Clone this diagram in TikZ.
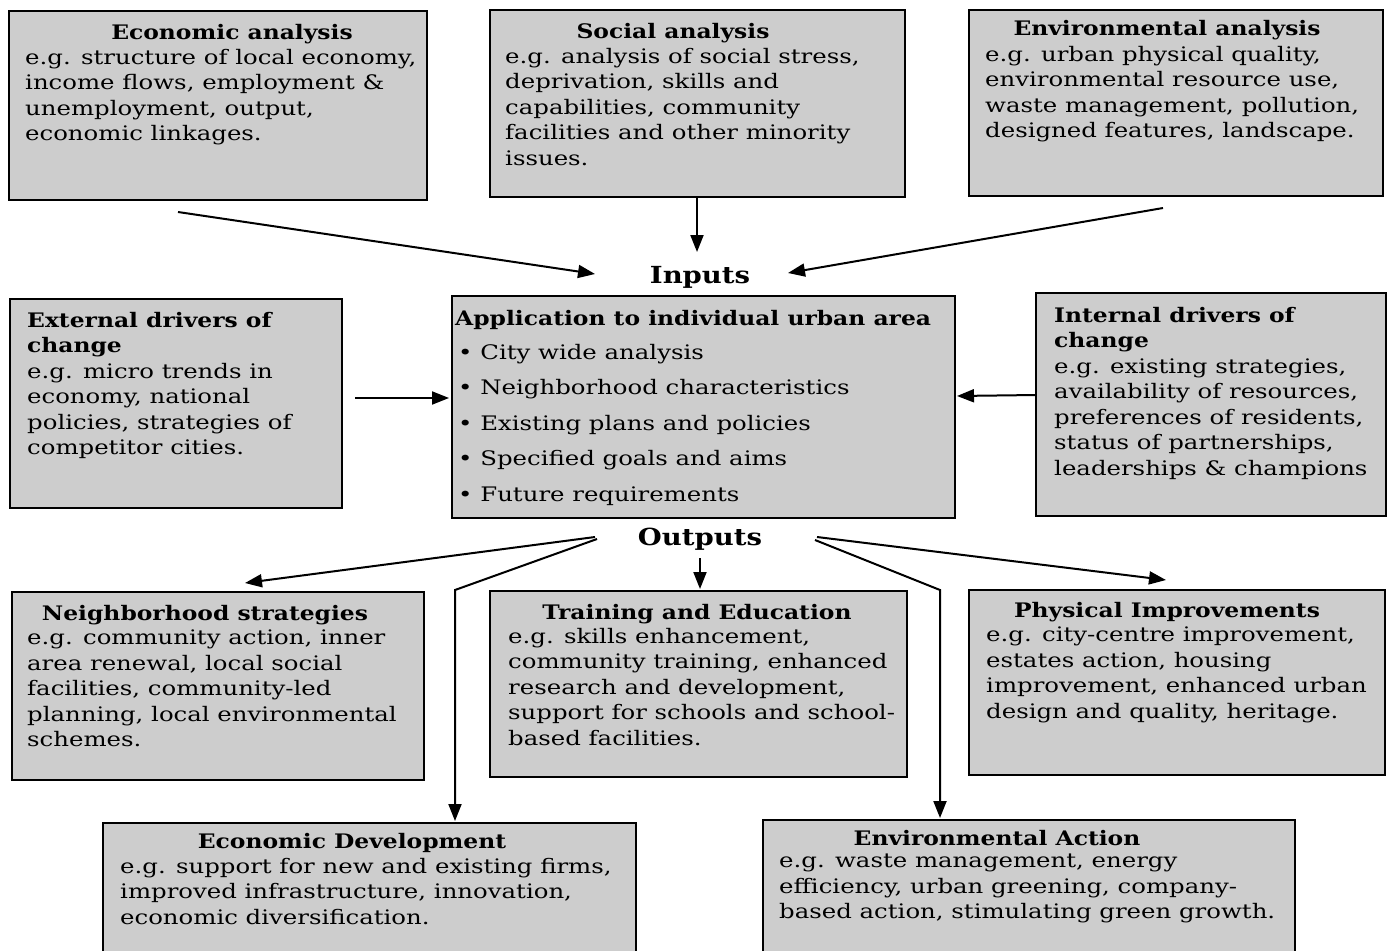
\documentclass[tikz,border=0pt]{standalone}
\usepackage{fontspec}
\setmainfont{DejaVu Serif}[FakeStretch=1.22, BoldFeatures={FakeStretch=1.17}]
\usetikzlibrary{arrows.meta,calc}
\definecolor{boxgray}{RGB}{205,205,205}
\newcommand\myBody{\fontsize{20}{25.5}\selectfont}
\newcommand\myList{\fontsize{20}{35.5}\selectfont}
\newcommand\myLab{\fontsize{23.5}{28}\selectfont\bfseries}
\tikzset{
 box/.style={draw=black, line width=2.4pt, fill=boxgray, inner sep=0pt, outer sep=0pt, anchor=north west},
 txt/.style={inner sep=0pt, anchor=north west, align=left, font=\myBody},
 ttl/.style={inner sep=0pt, anchor=base, font=\myBody\bfseries},
 arr/.style={line width=2pt, -{Triangle[length=17pt,width=13pt]}},
 lab/.style={font=\myLab, inner sep=0pt}
}
\begin{document}
\begin{tikzpicture}[x=1pt,y=-1pt]
\path[use as bounding box] (0,0) rectangle (1388,950);
\clip (0,0) rectangle (1388,950);
% boxes
\node[box, minimum width=418, minimum height=189] (econ) at (9,11) {};
\node[box, minimum width=415, minimum height=187] (social) at (490,10) {};
\node[box, minimum width=414, minimum height=186] (env) at (969,10) {};
\node[box, minimum width=503, minimum height=222] (central) at (452,296) {};
\node[box, minimum width=332, minimum height=209] (ext) at (10,299) {};
\node[box, minimum width=350, minimum height=223] (int) at (1036,293) {};
\node[box, minimum width=412, minimum height=188] (neigh) at (12,592) {};
\node[box, minimum width=417, minimum height=186] (train) at (490,591) {};
\node[box, minimum width=416, minimum height=185] (phys) at (969,590) {};
\node[box, minimum width=533, minimum height=140] (edev) at (103,823) {};
\node[box, minimum width=532, minimum height=143] (eact) at (763,820) {};
% texts
\node[ttl] (econT) at (232,40) {Economic analysis};
\node[txt] (econB) at (25,49) {e.g. structure of local economy,\\income flows, employment \&\\unemployment, output,\\economic linkages.};
\node[ttl] (socialT) at (673,38) {Social analysis};
\node[txt] (socialB) at (505,48) {e.g. analysis of social stress,\\deprivation, skills and\\capabilities, community\\facilities and other minority\\issues.};
\node[ttl] (envT) at (1167,36) {Environmental analysis};
\node[txt] (envB) at (985,46) {e.g. urban physical quality,\\environmental resource use,\\waste management, pollution,\\designed features, landscape.};
\node[ttl, anchor=base west] (centralT) at (455,325) {Application to individual urban area};
\node[txt, font=\myList] (centralB) at (458,344) {\textbullet\ City wide analysis\\\textbullet\ Neighborhood characteristics\\\textbullet\ Existing plans and policies\\\textbullet\ Specified goals and aims\\\textbullet\ Future requirements};
\node[txt] (extB) at (27,312) {\textbf{External drivers of}\\\textbf{change}\\e.g. micro trends in\\economy, national\\policies, strategies of\\competitor cities.};
\node[txt] (intB) at (1054,307) {\textbf{Internal drivers of}\\\textbf{change}\\e.g. existing strategies,\\availability of resources,\\preferences of residents,\\status of partnerships,\\leaderships \& champions};
\node[ttl] (neighT) at (205,620) {Neighborhood strategies};
\node[txt] (neighB) at (27,630) {e.g. community action, inner\\area renewal, local social\\facilities, community-led\\planning, local environmental\\schemes.};
\node[ttl] (trainT) at (697,619) {Training and Education};
\node[txt] (trainB) at (508,628) {e.g. skills enhancement,\\community training, enhanced\\research and development,\\support for schools and school-\\based facilities.};
\node[ttl] (physT) at (1167,617) {Physical Improvements};
\node[txt] (physB) at (986,627) {e.g. city-centre improvement,\\estates action, housing\\improvement, enhanced urban\\design and quality, heritage.};
\node[ttl] (edevT) at (352,848) {Economic Development};
\node[txt] (edevB) at (120,858) {e.g. support for new and existing firms,\\improved infrastructure, innovation,\\economic diversification.};
\node[ttl] (eactT) at (997,845) {Environmental Action};
\node[txt] (eactB) at (779,854) {e.g. waste management, energy\\efficiency, urban greening, company-\\based action, stimulating green growth.};
% labels
\node[lab, anchor=base] (inputs) at (700,283) {Inputs};
\node[lab, anchor=base] (outputs) at (700,545) {Outputs};
% connector coordinates
\coordinate (a1) at (178,212); \coordinate (a1e) at (595,274);
\coordinate (a2) at (697,198); \coordinate (a2e) at (697,252);
\coordinate (a3) at (1163,208); \coordinate (a3e) at (788,273);
\coordinate (a4) at (355,398); \coordinate (a4e) at (449,398);
\coordinate (a5) at (1036,395); \coordinate (a5e) at (957,396);
\coordinate (b1) at (595,537); \coordinate (b1e) at (245,583);
\coordinate (b2) at (597,539); \coordinate (b2c) at (455,590); \coordinate (b2e) at (455,821);
\coordinate (b3) at (700,558); \coordinate (b3e) at (700,589);
\coordinate (b4) at (817,537); \coordinate (b4e) at (1166,580);
\coordinate (b5) at (815,540); \coordinate (b5c) at (940,590); \coordinate (b5e) at (940,818);
% arrows
\draw[arr] (a1) -- (a1e);
\draw[arr] (a2) -- (a2e);
\draw[arr] (a3) -- (a3e);
\draw[arr] (a4) -- (a4e);
\draw[arr] (a5) -- (a5e);
\draw[arr] (b1) -- (b1e);
\draw[arr, line join=miter] (b2) -- (b2c) -- (b2e);
\draw[arr] (b3) -- (b3e);
\draw[arr] (b4) -- (b4e);
\draw[arr, line join=miter] (b5) -- (b5c) -- (b5e);
\end{tikzpicture}
\end{document}
